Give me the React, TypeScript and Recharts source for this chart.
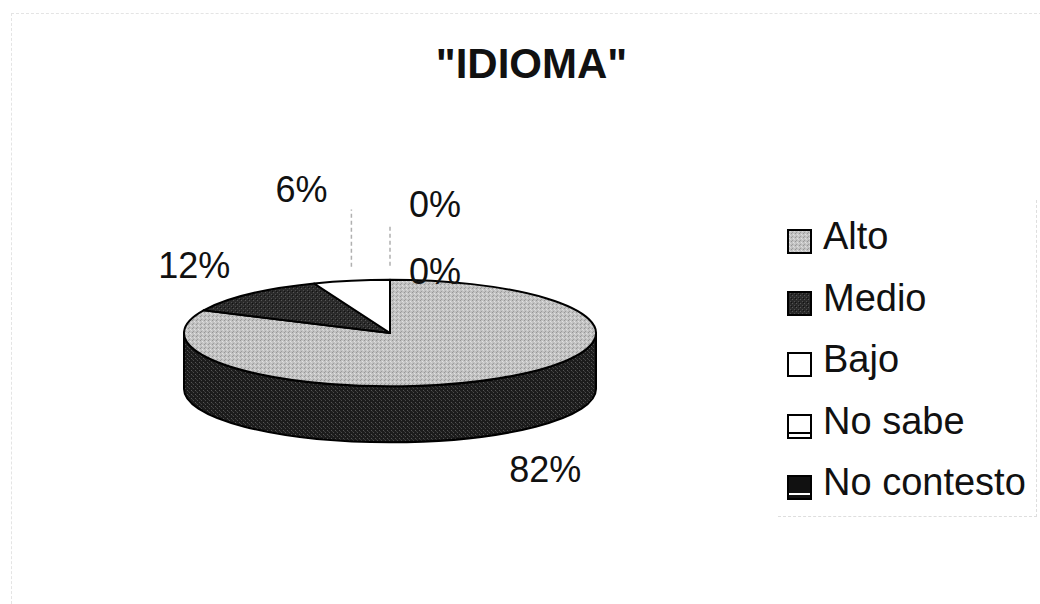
import React from "react";
import { PieChart, Pie, Legend } from "recharts";

const CATEGORIES = ["Alto", "Medio", "Bajo", "No sabe", "No contesto"];
const VALUES = [82, 12, 6, 0, 0];

// fills for the top face, the rim and the legend swatches
const TOP_FILLS = ["url(#altoTop)", "url(#medioTop)", "#ffffff", "#ffffff", "#111111"];
const SIDE_FILLS = ["url(#darkSide)", "url(#darkSide)", "#bdbdbd", "#bdbdbd", "#000000"];
const SWATCH_FILLS = ["url(#altoTop)", "url(#medioTop)", "#ffffff", "#ffffff", "#111111"];
// small slices get their labels pushed out of the way, like excel did
const LABEL_NUDGE = [
  [2, 2],
  [0, 0],
  [-35, -52],
  [45, -35],
  [45, 32],
];

const data = CATEGORIES.map((name, i) => ({ name, value: VALUES[i] }));

const TILT = 53 / 205;
const DEPTH = 56;
const RAD = Math.PI / 180;
const FONT = "Arial, 'Liberation Sans', sans-serif";

const pt = (cx: number, cy: number, rx: number, ry: number, a: number) => [
  cx + rx * Math.cos(a * RAD),
  cy - ry * Math.sin(a * RAD),
];

// rim of the pie: only the part of the slice facing the viewer
const renderSide = (props: any) => {
  const { cx, cy, outerRadius, startAngle, endAngle, index } = props;
  const rx = outerRadius;
  const ry = outerRadius * TILT;
  const s = Math.max(startAngle, endAngle);
  const e = Math.min(startAngle, endAngle);
  const paths: React.ReactNode[] = [];
  for (let k = -2; k <= 1; k++) {
    const lo = Math.max(e, -180 + 360 * k);
    const hi = Math.min(s, 360 * k);
    if (hi - lo < 0.01) continue;
    const [x1, y1] = pt(cx, cy, rx, ry, hi);
    const [x2, y2] = pt(cx, cy, rx, ry, lo);
    const d = `M${x1},${y1} A${rx},${ry} 0 0 1 ${x2},${y2} L${x2},${y2 + DEPTH} A${rx},${ry} 0 0 0 ${x1},${y1 + DEPTH} Z`;
    paths.push(
      <path key={k} d={d} fill={SIDE_FILLS[index]} stroke="#000" strokeWidth={2} strokeLinejoin="round" />
    );
  }
  return <g key={`side-${index}`}>{paths}</g>;
};

const renderTop = (props: any) => {
  const { cx, cy, outerRadius, startAngle, endAngle, index } = props;
  if (Math.abs(endAngle - startAngle) < 0.01) return <g key={`top-${index}`} />;
  const rx = outerRadius;
  const ry = outerRadius * TILT;
  const [x1, y1] = pt(cx, cy, rx, ry, startAngle);
  const [x2, y2] = pt(cx, cy, rx, ry, endAngle);
  const large = Math.abs(endAngle - startAngle) > 180 ? 1 : 0;
  const sweep = endAngle < startAngle ? 1 : 0;
  const d = `M${cx},${cy} L${x1},${y1} A${rx},${ry} 0 ${large} ${sweep} ${x2},${y2} Z`;
  return (
    <path key={`top-${index}`} d={d} fill={TOP_FILLS[index]} stroke="#000" strokeWidth={2} strokeLinejoin="round" />
  );
};

const renderText = (props: any) => {
  const { cx, cy, outerRadius, midAngle, percent, index } = props;
  const rx = outerRadius;
  const ry = outerRadius * TILT;
  const front = Math.sin(midAngle * RAD) < 0;
  const [bx, by] = pt(cx, cy, rx + 80, ry + 40, midAngle);
  const [nx, ny] = LABEL_NUDGE[index];
  const x = bx + nx;
  const y = by + ny + (front ? DEPTH : 0);
  const [ex, ey] = pt(cx, cy, rx, ry, midAngle);
  const leader = index === 2 || index === 3;
  return (
    <g key={`lbl-${index}`}>
      {leader && (
        <line
          x1={ex}
          y1={ey - 14}
          x2={ex}
          y2={y + 20}
          stroke="#b0b0b0"
          strokeWidth={1.5}
          strokeDasharray="4 3"
        />
      )}
      <text
        x={x}
        y={y}
        textAnchor="middle"
        dominantBaseline="central"
        fontFamily={FONT}
        fontSize={36}
        fill="#111"
      >
        {`${Math.round(percent * 100)}%`}
      </text>
    </g>
  );
};

const renderLegend = () => (
  <div
    style={{
      width: "100%",
      height: "100%",
      boxSizing: "border-box",
      borderBottom: "1px dashed #dedede",
      borderRight: "1px dashed #dedede",
      paddingTop: 6,
      fontFamily: FONT,
    }}
  >
    {CATEGORIES.map((name, i) => (
      <div key={name} style={{ position: "relative", height: 61.5 }}>
        <svg width={26} height={26} style={{ position: "absolute", left: 9, top: 23 }}>
          <rect x={1} y={1} width={23} height={23} fill={SWATCH_FILLS[i]} stroke="#000" strokeWidth={2} />
          {i >= 3 && <line x1={2} y1={19} x2={23} y2={19} stroke={i === 3 ? "#000" : "#fff"} strokeWidth={2} />}
        </svg>
        <span
          style={{
            position: "absolute",
            left: 45,
            top: 0,
            lineHeight: "61.5px",
            fontSize: 38,
            color: "#111",
            whiteSpace: "nowrap",
          }}
        >
          {name}
        </span>
      </div>
    ))}
  </div>
);

export default function App() {
  return (
    <div
      style={{
        position: "absolute",
        left: 0,
        top: 0,
        width: 1040,
        height: 604,
        background: "#fff",
        overflow: "hidden",
        fontFamily: FONT,
      }}
    >
      <svg width={0} height={0} style={{ position: "absolute" }}>
        <defs>
          <pattern id="altoTop" width={4} height={4} patternUnits="userSpaceOnUse">
            <rect width={4} height={4} fill="#c2c2c2" />
            <rect x={0} y={0} width={1} height={1} fill="#969696" />
            <rect x={2} y={1} width={1} height={1} fill="#e2e2e2" />
            <rect x={1} y={3} width={1} height={1} fill="#9e9e9e" />
            <rect x={3} y={2} width={1} height={1} fill="#d8d8d8" />
          </pattern>
          <pattern id="medioTop" width={4} height={4} patternUnits="userSpaceOnUse">
            <rect width={4} height={4} fill="#2a2a2a" />
            <rect x={1} y={0} width={1} height={1} fill="#565656" />
            <rect x={3} y={2} width={1} height={1} fill="#4e4e4e" />
            <rect x={0} y={3} width={1} height={1} fill="#111" />
          </pattern>
          <pattern id="darkSide" width={4} height={4} patternUnits="userSpaceOnUse">
            <rect width={4} height={4} fill="#1c1c1c" />
            <rect x={1} y={0} width={1} height={1} fill="#4a4a4a" />
            <rect x={3} y={2} width={1} height={1} fill="#555" />
            <rect x={0} y={3} width={1} height={1} fill="#383838" />
          </pattern>
        </defs>
      </svg>

      {/* faint frame of the scanned chart area */}
      <div
        style={{
          position: "absolute",
          left: 11,
          top: 13,
          width: 1040,
          height: 600,
          borderTop: "1px dashed #e4e4e4",
          borderLeft: "1px dashed #e4e4e4",
        }}
      />

      <div
        style={{
          position: "absolute",
          left: 0,
          top: 43,
          width: 1063,
          textAlign: "center",
          fontSize: 42,
          lineHeight: "42px",
          fontWeight: "bold",
          color: "#111",
        }}
      >
        "IDIOMA"
      </div>

      <div style={{ position: "absolute", left: 0, top: 0 }}>
        <PieChart width={1040} height={604} margin={{ top: 0, right: 0, bottom: 0, left: 0 }}>
          <Pie
            data={data}
            dataKey="value"
            nameKey="name"
            cx={390}
            cy={333}
            outerRadius={206}
            startAngle={90}
            endAngle={-270}
            fill="none"
            stroke="none"
            label={renderSide}
            labelLine={false}
            legendType="none"
            isAnimationActive={false}
          />
          <Pie
            data={data}
            dataKey="value"
            nameKey="name"
            cx={390}
            cy={333}
            outerRadius={206}
            startAngle={90}
            endAngle={-270}
            fill="none"
            stroke="none"
            label={renderTop}
            labelLine={false}
            legendType="none"
            isAnimationActive={false}
          />
          <Pie
            data={data}
            dataKey="value"
            nameKey="name"
            cx={390}
            cy={333}
            outerRadius={206}
            startAngle={90}
            endAngle={-270}
            fill="none"
            stroke="none"
            label={renderText}
            labelLine={false}
            legendType="rect"
            isAnimationActive={false}
          />
          <Legend
            layout="vertical"
            align="right"
            verticalAlign="top"
            content={renderLegend}
            wrapperStyle={{ position: "absolute", left: 778, top: 200, width: 259, height: 317 }}
          />
        </PieChart>
      </div>
    </div>
  );
}
